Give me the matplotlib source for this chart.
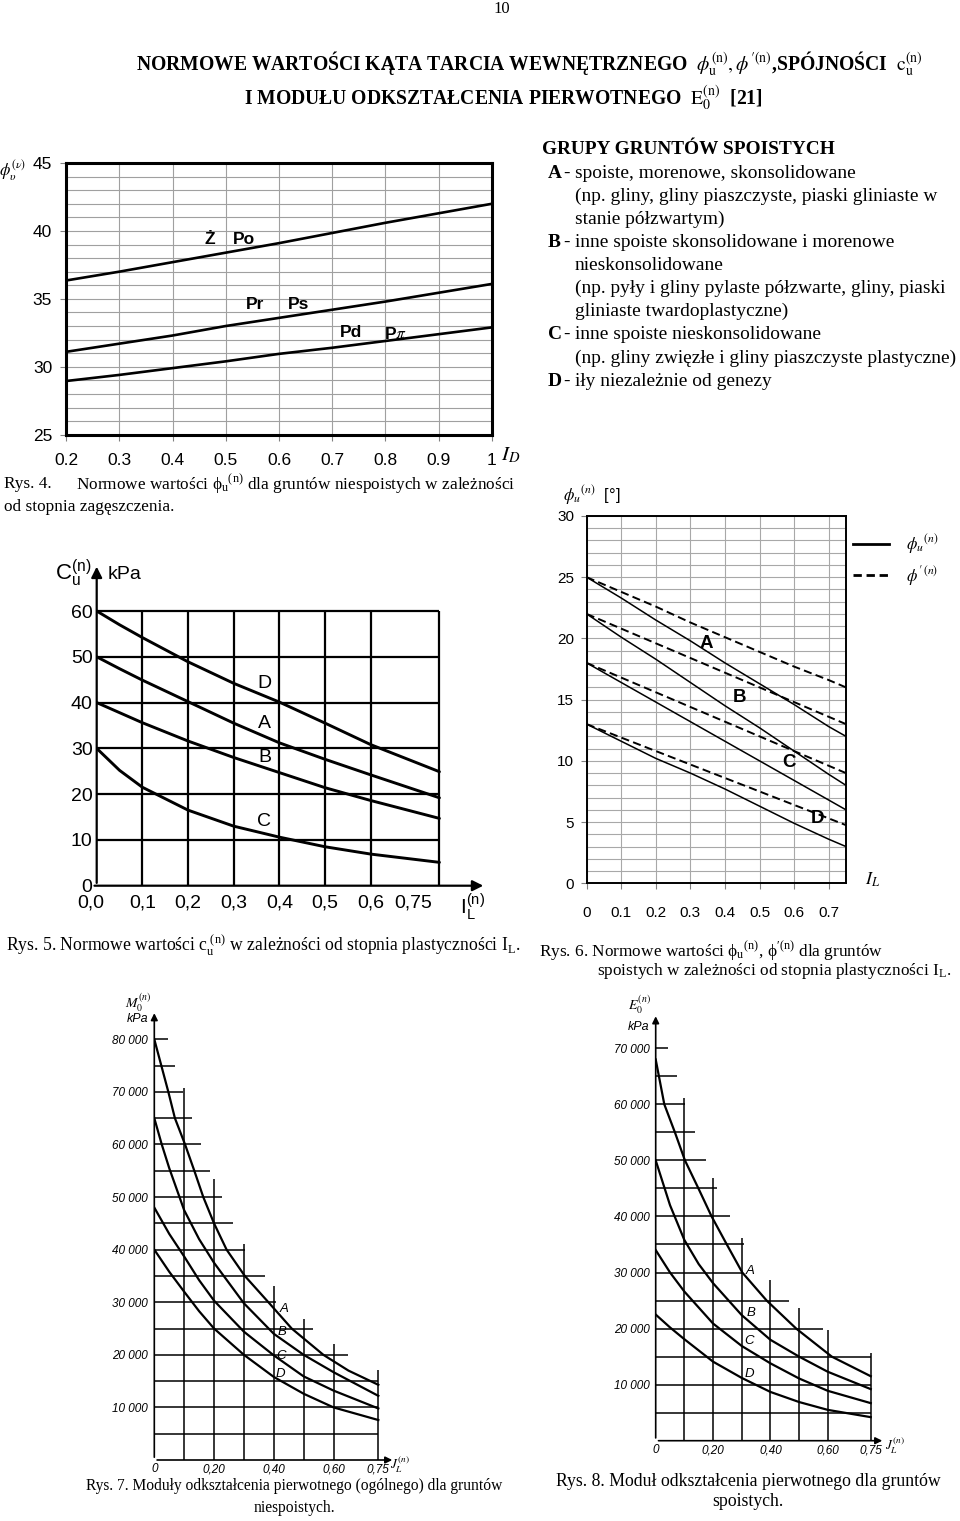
import numpy as np
import matplotlib
matplotlib.use('Agg')
import matplotlib.pyplot as plt
from matplotlib.lines import Line2D
from matplotlib.transforms import ScaledTranslation

plt.rcParams['mathtext.fontset'] = 'stix'
plt.rcParams['font.family'] = ['Liberation Sans', 'DejaVu Sans']
SERIF = ['Liberation Serif', 'DejaVu Serif']
NARROW = ['Liberation Sans Narrow', 'Liberation Sans', 'DejaVu Sans']

# ====================== DATA ======================
# Rys. 4  phi_u(n) vs I_D
r4_id = [0.2, 0.3, 0.4, 0.5, 0.6, 0.7, 0.8, 0.9, 1.0]
r4_phi_zpo = [36.35, 37.0, 37.7, 38.4, 39.1, 39.85, 40.6, 41.3, 42.0]
r4_phi_prps = [31.1, 31.7, 32.3, 33.0, 33.6, 34.2, 34.8, 35.45, 36.1]
r4_phi_pdpp = [28.95, 29.4, 29.9, 30.4, 30.95, 31.4, 31.9, 32.4, 32.9]
r4_names = ['Ż', 'Po', 'Pr', 'Ps', 'Pd', 'P$\\pi$']
r4_name_x = [0.47, 0.535, 0.555, 0.636, 0.735, 0.818]
r4_name_y = [39.4, 39.4, 34.55, 34.55, 32.5, 32.4]
r4_xticks = [0.2, 0.3, 0.4, 0.5, 0.6, 0.7, 0.8, 0.9, 1.0]
r4_xticklabels = ['0.2', '0.3', '0.4', '0.5', '0.6', '0.7', '0.8', '0.9', '1']
r4_yticks = [25, 30, 35, 40, 45]

# Rys. 5  c_u(n) vs I_L
r5_il = [0.0, 0.05, 0.1, 0.2, 0.3, 0.4, 0.5, 0.6, 0.75]
r5_cu_D = [60.0, 57.0, 54.2, 48.9, 44.2, 40.1, 35.5, 30.8, 24.9]
r5_cu_A = [50.0, 47.4, 44.9, 40.2, 35.5, 31.2, 27.6, 24.2, 19.2]
r5_cu_B = [40.0, 37.8, 35.6, 31.6, 28.0, 24.7, 21.4, 18.6, 14.7]
r5_cu_C = [30.0, 25.2, 21.5, 16.5, 13.0, 10.6, 8.5, 6.9, 5.1]
r5_names = ['D', 'A', 'B', 'C']
r5_name_x = [0.368, 0.366, 0.368, 0.366]
r5_name_y = [44.2, 35.5, 28.0, 14.0]
r5_grid_x = [0.1, 0.2, 0.3, 0.4, 0.5, 0.6, 0.75]
r5_grid_y = [10, 20, 30, 40, 50, 60]
r5_xticks = [0.0, 0.1, 0.2, 0.3, 0.4, 0.5, 0.6, 0.75]
r5_xticklabels = ['0,0', '0,1', '0,2', '0,3', '0,4', '0,5', '0,6', '0,75']
r5_yticks = [0, 10, 20, 30, 40, 50, 60]

# Rys. 6  phi_u(n) (solid) and phi'(n) (dashed) vs I_L
r6_il = [0.0, 0.1, 0.2, 0.3, 0.4, 0.5, 0.6, 0.7, 0.75]
r6_phiu_A = [25.0, 23.3, 21.5, 19.8, 18.0, 16.3, 14.6, 12.8, 12.0]
r6_phiu_B = [22.0, 20.1, 18.3, 16.4, 14.5, 12.7, 10.8, 8.9, 8.0]
r6_phiu_C = [18.0, 16.4, 14.8, 13.2, 11.6, 10.0, 8.4, 6.8, 6.0]
r6_phiu_D = [13.0, 11.6, 10.2, 9.0, 7.7, 6.3, 4.9, 3.6, 3.0]
r6_phip_A = [25.0, 23.8, 22.6, 21.3, 20.1, 18.9, 17.7, 16.6, 16.0]
r6_phip_B = [22.0, 20.8, 19.6, 18.4, 17.2, 16.0, 14.8, 13.6, 13.0]
r6_phip_C = [18.0, 16.8, 15.6, 14.4, 13.2, 12.0, 10.8, 9.6, 9.0]
r6_phip_D = [13.0, 11.9, 10.8, 9.7, 8.6, 7.5, 6.4, 5.3, 4.75]
r6_names = ['A', 'B', 'C', 'D']
r6_name_x = [0.347, 0.441, 0.586, 0.667]
r6_name_y = [19.6, 15.2, 9.85, 5.3]
r6_xticks = [0.0, 0.1, 0.2, 0.3, 0.4, 0.5, 0.6, 0.7]
r6_xticklabels = ['0', '0.1', '0.2', '0.3', '0.4', '0.5', '0.6', '0.7']
r6_yticks = [0, 5, 10, 15, 20, 25, 30]

# Rys. 7  M0(n) vs I_L (niespoiste)
r7_A_x = [0.0, 0.047, 0.069, 0.103, 0.134, 0.164, 0.2, 0.242, 0.303, 0.382, 0.46, 0.566, 0.65, 0.75]
r7_A_y = [80000, 70000, 65000, 60000, 55000, 50000, 45000, 40000, 35000, 30000, 25000, 20000, 17000, 14300]
r7_B_x = [0.0, 0.025, 0.05, 0.1, 0.15, 0.2, 0.3, 0.4, 0.5, 0.6, 0.75]
r7_B_y = [65000, 60000, 55500, 47500, 42000, 37500, 29800, 24000, 20000, 16700, 12200]
r7_C_x = [0.0, 0.05, 0.1, 0.15, 0.2, 0.3, 0.4, 0.5, 0.6, 0.75]
r7_C_y = [48000, 43000, 38700, 34200, 30300, 24400, 19900, 15900, 13200, 9800]
r7_D_x = [0.0, 0.05, 0.1, 0.15, 0.2, 0.3, 0.4, 0.5, 0.6, 0.75]
r7_D_y = [40000, 35800, 32000, 28300, 25000, 20000, 15800, 12600, 10000, 7600]
r7_names = ['A', 'B', 'C', 'D']
r7_name_x = [0.434, 0.426, 0.426, 0.423]
r7_name_y = [28700, 24400, 19700, 16350]
r7_hgrid_y = [5000, 10000, 15000, 20000, 25000, 30000, 35000, 40000,
              45000, 50000, 55000, 60000, 65000, 70000, 75000, 80000]
r7_hgrid_xmax = [0.75, 0.75, 0.75, 0.65, 0.53, 0.406, 0.37, 0.303,
                 0.264, 0.225, 0.186, 0.158, 0.125, 0.097, 0.069, 0.047]
r7_vgrid_x = [0.1, 0.2, 0.3, 0.4, 0.5, 0.6, 0.75]
r7_vgrid_ymax = [70800, 53400, 41100, 33100, 26800, 22000, 17200]
r7_yticks = [10000, 20000, 30000, 40000, 50000, 60000, 70000, 80000]
r7_yticklabels = ['10 000', '20 000', '30 000', '40 000', '50 000', '60 000', '70 000', '80 000']
r7_xticks = [0.0, 0.2, 0.4, 0.6, 0.75]
r7_xticklabels = ['0', '0,20', '0,40', '0,60', '0,75']

# Rys. 8  E0(n) vs I_L (spoiste)
r8_A_x = [0.0, 0.03, 0.067, 0.102, 0.149, 0.195, 0.248, 0.302, 0.387, 0.49, 0.614, 0.75]
r8_A_y = [68000, 60000, 55000, 50000, 45000, 40000, 35000, 30000, 25000, 20000, 15000, 11500]
r8_B_x = [0.0, 0.05, 0.1, 0.15, 0.2, 0.3, 0.4, 0.5, 0.6, 0.75]
r8_B_y = [50000, 42000, 35800, 31500, 28100, 22400, 18000, 15000, 12300, 9200]
r8_C_x = [0.0, 0.05, 0.1, 0.2, 0.3, 0.4, 0.5, 0.6, 0.75]
r8_C_y = [34000, 30000, 26600, 20900, 16900, 13800, 11100, 8900, 6700]
r8_D_x = [0.0, 0.05, 0.1, 0.2, 0.3, 0.4, 0.5, 0.6, 0.75]
r8_D_y = [22500, 20200, 18100, 14100, 11200, 8700, 6900, 5500, 4200]
r8_names = ['A', 'B', 'C', 'D']
r8_name_x = [0.329, 0.333, 0.326, 0.326]
r8_name_y = [30300, 22800, 17700, 11900]
r8_hgrid_y = [5000, 10000, 15000, 20000, 25000, 30000, 35000, 40000,
              45000, 50000, 55000, 60000, 65000, 70000]
r8_hgrid_xmax = [0.75, 0.75, 0.75, 0.585, 0.464, 0.305, 0.308, 0.259,
                 0.213, 0.174, 0.137, 0.102, 0.073, 0.044]
r8_vgrid_x = [0.1, 0.2, 0.3, 0.4, 0.5, 0.6, 0.75]
r8_vgrid_ymax = [61100, 46800, 36100, 28700, 23600, 19750, 15700]
r8_yticks = [10000, 20000, 30000, 40000, 50000, 60000, 70000]
r8_yticklabels = ['10 000', '20 000', '30 000', '40 000', '50 000', '60 000', '70 000']
r8_xticks = [0.0, 0.2, 0.4, 0.6, 0.75]
r8_xticklabels = ['0', '0,20', '0,40', '0,60', '0,75']

# Text block
groups_header = 'GRUPY GRUNTÓW SPOISTYCH'
groups_lines = [
    ('A', 'spoiste, morenowe, skonsolidowane'),
    (None, '(np. gliny, gliny piaszczyste, piaski gliniaste w'),
    (None, 'stanie półzwartym)'),
    ('B', 'inne spoiste skonsolidowane i morenowe'),
    (None, 'nieskonsolidowane'),
    (None, '(np. pyły i gliny pylaste półzwarte, gliny, piaski'),
    (None, 'gliniaste twardoplastyczne)'),
    ('C', 'inne spoiste nieskonsolidowane'),
    (None, '(np. gliny zwięzłe i gliny piaszczyste plastyczne)'),
    ('D', 'iły niezależnie od genezy'),
]

# ====================== FIGURE ======================
W, H = 960, 1521
fig = plt.figure(figsize=(W / 100, H / 100), dpi=100)
fig.patch.set_facecolor('white')
renderer = fig.canvas.get_renderer()


def add_ax(l, t, r, b):
    return fig.add_axes([l / W, 1 - b / H, (r - l) / W, (b - t) / H])


def ftext(x, y, s, **kw):
    return fig.text(x / W, 1 - y / H, s, **kw)


def fit(t, width):
    w = t.get_window_extent(renderer=renderer).width
    t.set_fontsize(t.get_fontsize() * width / w)
    return t.get_fontsize()


# ---------- page number & title ----------
ftext(502, 9, '10', family=SERIF, fontsize=12, ha='center', va='center')
t1 = ftext(136, 64, 'NORMOWE WARTOŚCI KĄTA TARCIA WEWNĘTRZNEGO  '
           r'$\phi_{\mathrm{u}}^{(\mathrm{n})},\phi^{\prime(\mathrm{n})}$'
           ',SPÓJNOŚCI  ' r'$\mathrm{c}_{\mathrm{u}}^{(\mathrm{n})}$',
           family=SERIF, weight='bold', fontsize=13, ha='left', va='center')
fs_title = fit(t1, 784)
ftext(503, 98, 'I MODUŁU ODKSZTAŁCENIA PIERWOTNEGO  '
      r'$\mathrm{E}_{0}^{(\mathrm{n})}$' '  [21]',
      family=SERIF, weight='bold', fontsize=fs_title, ha='center', va='center')

# ---------- text block ----------
th = ftext(542, 150, groups_header, family=SERIF, weight='bold', fontsize=13,
           ha='left', va='center')
fit(th, 291)
tl = ftext(575, 0, groups_lines[8][1], family=SERIF, fontsize=13, ha='left', va='center')
fs_body = fit(tl, 379)
tl.remove()
for i, (key, line) in enumerate(groups_lines):
    y = 173.1 + i * 23.1
    if key:
        ftext(548, y, key, family=SERIF, weight='bold', fontsize=fs_body, ha='left', va='center')
        ftext(563, y, '-', family=SERIF, fontsize=fs_body, ha='left', va='center')
    ftext(575, y, line, family=SERIF, fontsize=fs_body, ha='left', va='center')

# ====================== Rys. 4 ======================
ax1 = add_ax(66, 163, 492, 434.7)
ax1.set_xlim(0.2, 1.0)
ax1.set_ylim(25, 45)
ax1.set_xticks(r4_xticks)
ax1.set_xticklabels(r4_xticklabels)
ax1.set_yticks(r4_yticks)
ax1.set_yticks(np.arange(25, 46, 1), minor=True)
ax1.grid(which='major', color='#a0a0a0', lw=0.8)
ax1.grid(which='minor', axis='y', color='#a0a0a0', lw=0.8)
ax1.tick_params(which='both', length=4, width=0.8, color='#808080', labelsize=12.5)
ax1.tick_params(axis='x', which='both', pad=9)
ax1.tick_params(axis='y', which='minor', length=0)
ax1.tick_params(axis='y', pad=6)
for s in ax1.spines.values():
    s.set_linewidth(2.2)
for yv in (r4_phi_zpo, r4_phi_prps, r4_phi_pdpp):
    ax1.plot(r4_id, yv, color='black', lw=1.9)
for nm, x, y in zip(r4_names, r4_name_x, r4_name_y):
    ax1.text(x, y, nm, fontsize=12.5, weight='bold', ha='center', va='center')
ax1.set_ylabel(r'$\phi_{\upsilon}^{(\nu)}$', rotation=0, fontsize=12, ha='left', va='center')
ax1.yaxis.set_label_coords(-0.157, 0.972)
ax1.set_xlabel(r'$\mathbf{\mathit{I}}_{D}$', fontsize=15, ha='left', va='center')
ax1.xaxis.set_label_coords(1.022, -0.075)

c4a = ftext(4, 484, 'Rys. 4.', family=SERIF, fontsize=12.5, ha='left', va='center')
c4b = ftext(76, 484, r'Normowe wartości $\mathregular{\phi_u}^{\mathregular{(n)}}$ dla gruntów niespoistych w zależności',
            family=SERIF, fontsize=12.5, ha='left', va='center')
fs4 = fit(c4b, 440)
c4a.set_fontsize(fs4)
ftext(4, 507, 'od stopnia zagęszczenia.', family=SERIF, fontsize=fs4, ha='left', va='center')

# ====================== Rys. 5 ======================
ax2 = add_ax(96.7, 556.1, 489.7, 885.7)
ax2.set_xlim(0, 0.86)
ax2.set_ylim(0, 72)
for s in ax2.spines.values():
    s.set_visible(False)
ax2.vlines(r5_grid_x, 0, 60, color='black', lw=1.6)
ax2.hlines(r5_grid_y, 0, 0.75, color='black', lw=1.6)
ax2.annotate('', xy=(0, 70.3), xytext=(0, 0),
             arrowprops=dict(arrowstyle='-|>', lw=1.6, color='black', mutation_scale=16),
             annotation_clip=False)
ax2.annotate('', xy=(0.852, 0), xytext=(-0.011, 0),
             arrowprops=dict(arrowstyle='-|>', lw=1.6, color='black', mutation_scale=16),
             annotation_clip=False)
for yv in (r5_cu_D, r5_cu_A, r5_cu_B, r5_cu_C):
    ax2.plot(r5_il, yv, color='black', lw=2.1, solid_capstyle='round', solid_joinstyle='round')
for nm, x, y in zip(r5_names, r5_name_x, r5_name_y):
    ax2.text(x, y, nm, fontsize=14, ha='center', va='center')
ax2.set_xticks(r5_xticks)
ax2.set_xticklabels(r5_xticklabels)
ax2.set_yticks(r5_yticks)
ax2.tick_params(length=0, labelsize=14)
ax2.tick_params(axis='x', pad=6)
ax2.tick_params(axis='y', pad=3)
lab = ax2.get_xticklabels()
lab[0].set_transform(lab[0].get_transform() + ScaledTranslation(-0.06, 0, fig.dpi_scale_trans))
lab[-1].set_transform(lab[-1].get_transform() + ScaledTranslation(-0.26, 0, fig.dpi_scale_trans))
ax2.text(-0.052, 68.3, r'C$_{\mathregular{u}}^{\mathregular{(n)}}$', fontsize=16, ha='center', va='center')
ax2.text(0.025, 67.9, 'kPa', fontsize=14, ha='left', va='center')
ax2.text(0.823, -4.6, r'I$_{\mathregular{L}}^{\mathregular{(n)}}$', fontsize=15, ha='center', va='center')

c5 = ftext(6, 945, r'Rys. 5. Normowe wartości c$_{\mathregular{u}}^{\mathregular{\ (n)}}$ w zależności od stopnia plastyczności I$_{\mathregular{L}}$.',
           family=SERIF, fontsize=12, ha='left', va='center')
fit(c5, 513)

# ====================== Rys. 6 ======================
ax3 = add_ax(586.7, 516, 846, 883.3)
ax3.set_xlim(0, 0.75)
ax3.set_ylim(0, 30)
ax3.set_xticks(r6_xticks)
ax3.set_xticklabels(r6_xticklabels)
ax3.set_yticks(r6_yticks)
ax3.set_yticks(np.arange(0, 31, 1), minor=True)
ax3.grid(which='major', color='#a8a8a8', lw=0.8)
ax3.grid(which='minor', axis='y', color='#a8a8a8', lw=0.8)
ax3.tick_params(which='both', length=4, width=0.8, color='#808080', labelsize=11)
ax3.tick_params(axis='y', which='minor', length=0)
ax3.tick_params(axis='x', pad=12)
ax3.tick_params(axis='y', pad=5)
for s in ax3.spines.values():
    s.set_linewidth(1.4)
for yv in (r6_phiu_A, r6_phiu_B, r6_phiu_C, r6_phiu_D):
    ax3.plot(r6_il, yv, color='black', lw=1.1)
for yv in (r6_phip_A, r6_phip_B, r6_phip_C, r6_phip_D):
    ax3.plot(r6_il, yv, color='black', lw=1.4, ls=(0, (4.2, 2.2)))
for nm, x, y in zip(r6_names, r6_name_x, r6_name_y):
    ax3.text(x, y, nm, fontsize=13.5, weight='bold', ha='center', va='center')
ax3.set_ylabel(r'$\phi_{u}{}^{(n)}$  [°]', rotation=0, fontsize=12, ha='left', va='center')
ax3.yaxis.set_label_coords(-0.09, 1.057)
ax3.set_xlabel(r'$I_{L}$', fontsize=13, ha='left', va='center')
ax3.xaxis.set_label_coords(1.075, 0.01)
handles = [Line2D([], [], color='black', lw=2.0),
           Line2D([], [], color='black', lw=2.0, ls=(0, (3.0, 1.7)))]
ax3.legend(handles, [r'$\phi_{u}{}^{(n)}$', r'$\phi^{\prime\,(n)}$'], loc='upper left',
           bbox_to_anchor=(1.026, 0.955), frameon=False, handlelength=2.2, handletextpad=1.0,
           borderpad=0, borderaxespad=0, labelspacing=0.45, fontsize=12)

c6a = ftext(539, 951, r'Rys. 6. Normowe wartości $\mathregular{\phi_u}^{\mathregular{(n)}}$, $\mathregular{\phi}^{\mathregular{\prime(n)}}$ dla gruntów',
            family=SERIF, fontsize=12, ha='left', va='center')
c6b = ftext(597, 971, r'spoistych w zależności od stopnia plastyczności I$_{\mathregular{L}}$.',
            family=SERIF, fontsize=12, ha='left', va='center')
fs6 = fit(c6b, 355)
c6a.set_fontsize(fs6)


# ====================== Rys. 7 & 8 ======================
def staircase_axes(rect, ylim, hy, hx, vx, vy, curves, names, nx, ny,
                   yticks, yticklabels, xticks, xticklabels, ytop_arrow, xarrow):
    ax = add_ax(*rect)
    ax.set_xlim(0, 0.85)
    ax.set_ylim(0, ylim)
    for s in ax.spines.values():
        s.set_visible(False)
    ax.hlines(hy, 0, hx, color='black', lw=1.1)
    ax.vlines(vx, 0, vy, color='black', lw=1.1)
    ax.annotate('', xy=(0, ytop_arrow), xytext=(0, 0),
                arrowprops=dict(arrowstyle='-|>', lw=1.2, color='black', mutation_scale=10),
                annotation_clip=False)
    ax.annotate('', xy=(xarrow, 0), xytext=(0, 0),
                arrowprops=dict(arrowstyle='-|>', lw=1.2, color='black', mutation_scale=10),
                annotation_clip=False)
    for cx, cy in curves:
        ax.plot(cx, cy, color='black', lw=1.6, solid_joinstyle='round')
    for nm, x, y in zip(names, nx, ny):
        ax.text(x, y, nm, fontsize=9.5, style='italic', family=NARROW, ha='center', va='center')
    ax.set_yticks(yticks)
    ax.set_yticklabels(yticklabels, family=NARROW, style='italic')
    ax.set_xticks(xticks)
    ax.set_xticklabels(xticklabels, family=NARROW, style='italic')
    ax.tick_params(length=0, labelsize=8.5)
    ax.tick_params(axis='y', pad=4.5)
    ax.tick_params(axis='x', pad=2.5)
    return ax


ax4 = staircase_axes((154.3, 1002.5, 408.2, 1460), 87000, r7_hgrid_y, r7_hgrid_xmax,
                     r7_vgrid_x, r7_vgrid_ymax,
                     [(r7_A_x, r7_A_y), (r7_B_x, r7_B_y), (r7_C_x, r7_C_y), (r7_D_x, r7_D_y)],
                     r7_names, r7_name_x, r7_name_y, r7_yticks, r7_yticklabels,
                     r7_xticks, r7_xticklabels, 85500, 0.806)
ax4.text(-0.055, 86900, r'$M_{0}^{(n)}$', fontsize=10, ha='center', va='center')
ax4.text(-0.055, 83900, 'kPa', fontsize=9, style='italic', family=NARROW, ha='center', va='center')
ax4.text(0.79, -900, r'$J_{L}^{(n)}$', fontsize=9.5, ha='left', va='center')

ax5 = staircase_axes((655.7, 1003.4, 899.4, 1440.7), 78000, r8_hgrid_y, r8_hgrid_xmax,
                     r8_vgrid_x, r8_vgrid_ymax,
                     [(r8_A_x, r8_A_y), (r8_B_x, r8_B_y), (r8_C_x, r8_C_y), (r8_D_x, r8_D_y)],
                     r8_names, r8_name_x, r8_name_y, r8_yticks, r8_yticklabels,
                     r8_xticks, r8_xticklabels, 76200, 0.80)
ax5.text(-0.055, 77700, r'$E_{0}^{(n)}$', fontsize=10, ha='center', va='center')
ax5.text(-0.060, 73800, 'kPa', fontsize=9, style='italic', family=NARROW, ha='center', va='center')
ax5.text(0.80, -900, r'$J_{L}^{(n)}$', fontsize=9.5, ha='left', va='center')

c7a = ftext(294, 1486, 'Rys. 7. Moduły odkształcenia pierwotnego (ogólnego) dla gruntów',
            family=SERIF, fontsize=12, ha='center', va='center')
fs7 = fit(c7a, 417)
ftext(294, 1508, 'niespoistych.', family=SERIF, fontsize=fs7, ha='center', va='center')
c8a = ftext(748, 1481, 'Rys. 8. Moduł odkształcenia pierwotnego dla gruntów',
            family=SERIF, fontsize=12, ha='center', va='center')
fs8 = fit(c8a, 386)
ftext(748, 1502, 'spoistych.', family=SERIF, fontsize=fs8, ha='center', va='center')

fig.savefig('out.png', dpi=100, facecolor='white')
